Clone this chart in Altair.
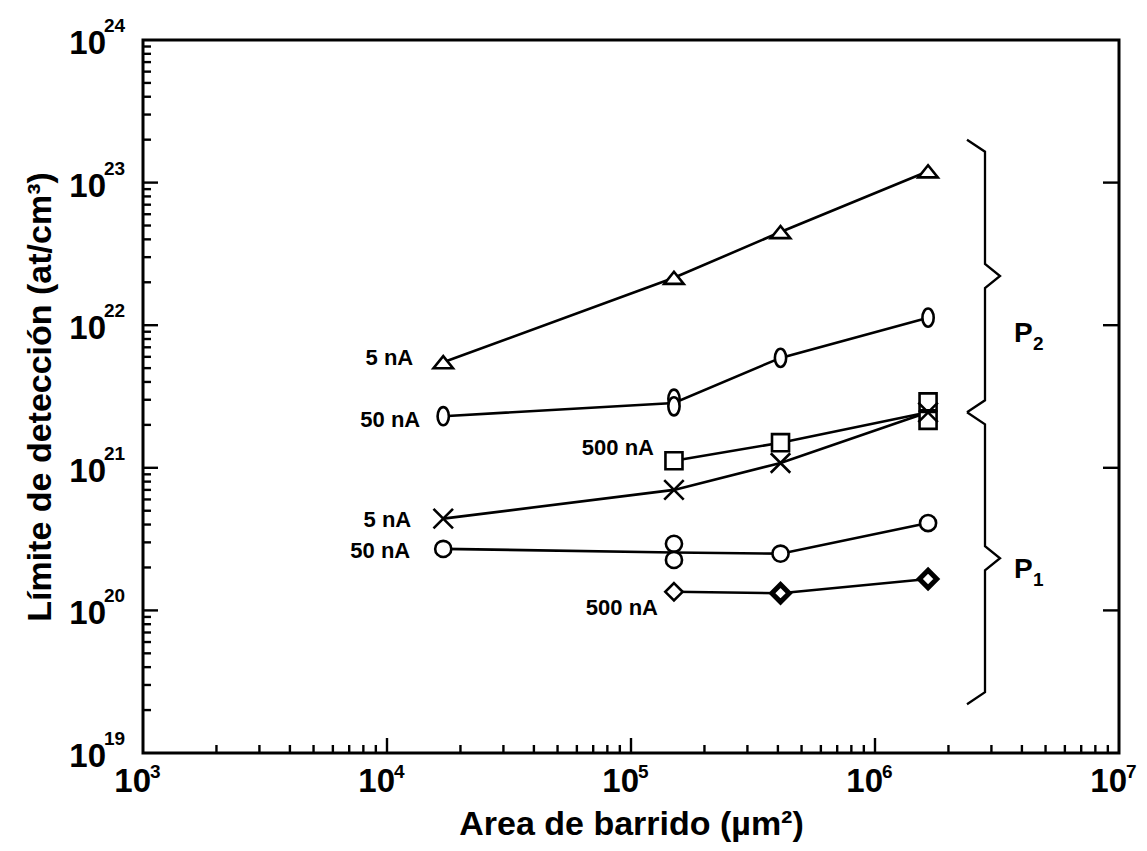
import math
import altair as alt
import pandas as pd

# ---------------- data ----------------
x_area = [1.7e4, 1.5e5, 4.1e5, 1.65e6]

series_ids = ["tri5", "oval50", "sq500", "x5", "circ50", "diam500"]
series_labels = ["5 nA", "50 nA", "500 nA", "5 nA", "50 nA", "500 nA"]

# values through which each connecting line passes (None = no point)
line_tri_5nA = [5.5e21, 2.15e22, 4.5e22, 1.2e23]
line_oval_50nA = [2.3e21, 2.85e21, 5.9e21, 1.13e22]
line_sq_500nA = [None, 1.12e21, 1.5e21, 2.45e21]
line_x_5nA = [4.4e20, 7.0e20, 1.08e21, 2.45e21]
line_circ_50nA = [2.7e20, 2.55e20, 2.5e20, 4.1e20]
line_diam_500nA = [None, 1.35e20, 1.32e20, 1.66e20]

# plotted symbols at each x (some positions carry two symbols)
mk_tri_5nA = [[5.5e21], [2.15e22], [4.5e22], [1.2e23]]
mk_oval_50nA = [[2.3e21], [3.05e21, 2.7e21], [5.9e21], [1.13e22]]
mk_sq_500nA = [[], [1.12e21], [1.5e21], [2.9e21, 2.15e21]]
mk_x_5nA = [[4.4e20], [7.0e20], [1.08e21], [2.45e21]]
mk_circ_50nA = [[2.7e20], [2.93e20, 2.26e20], [2.5e20], [4.1e20]]
mk_diam_500nA = [[], [1.35e20], [1.32e20], [1.66e20]]
diam_bold = [False, False, True, True]

# braces (y extents) and their labels
brace_names = ["P2", "P1"]
brace_top = [2.0e23, 2.45e21]
brace_bottom = [2.45e21, 2.2e19]
brace_label_main = ["P", "P"]
brace_label_sub = ["2", "1"]
brace_label_y = [7.6e21, 1.7e20]

x_tick_values = [1e3, 1e4, 1e5, 1e6, 1e7]
x_tick_exp = ["3", "4", "5", "6", "7"]
y_tick_values = [1e19, 1e20, 1e21, 1e22, 1e23, 1e24]
y_tick_exp = ["19", "20", "21", "22", "23", "24"]

x_title = "Area de barrido (µm²)"
y_title = "Límite de detección (at/cm³)"

# ---------------- styling ----------------
W, H = 976, 713
LEFT = 135
FONT = "Liberation Sans"
WEIGHT = "bold"
LW = 2.6
shape_paths = {
    "tri5": "M-1,0.62L1,0.62L0,-0.62Z",
    "oval50": "M0,-1A0.62,1,0,1,1,0,1A0.62,1,0,1,1,0,-1Z",
    "sq500": "M-1,-1L1,-1L1,1L-1,1Z",
    "x5": "M-1,-1L1,1M-1,1L1,-1",
    "circ50": "circle",
    "diam500": "M0,-1L1,0L0,1L-1,0Z",
}
shape_sizes = {"tri5": 380, "oval50": 330, "sq500": 290, "x5": 380,
               "circ50": 260, "diam500": 300}
label_dx = [-30, -23, -20, -32, -33, -16]
label_dy = [-4, 4, -13, 1, 2, 16]


def px_to_x(px):
    # pixel column (page coords) -> data value on the log x scale
    return 10 ** (3 + (px - (8 + LEFT)) / (W / 4))


line_vals = [line_tri_5nA, line_oval_50nA, line_sq_500nA, line_x_5nA,
             line_circ_50nA, line_diam_500nA]
mk_vals = [mk_tri_5nA, mk_oval_50nA, mk_sq_500nA, mk_x_5nA,
           mk_circ_50nA, mk_diam_500nA]

line_rows = []
for sid, vals in zip(series_ids, line_vals):
    for i, v in enumerate(vals):
        if v is not None:
            line_rows.append({"s": sid, "x": x_area[i], "y": v, "o": i})
line_df = pd.DataFrame(line_rows)

mk_rows = []
for sid, vals in zip(series_ids, mk_vals):
    for i, vs in enumerate(vals):
        for v in vs:
            sw = LW
            if sid == "diam500" and diam_bold[i]:
                sw = 5.0
            mk_rows.append({"s": sid, "x": x_area[i], "y": v,
                            "shape": shape_paths[sid],
                            "size": shape_sizes[sid], "sw": sw})
mk_df = pd.DataFrame(mk_rows)

xs = alt.Scale(type="log", domain=[1e3, 1e7], nice=False)
ys = alt.Scale(type="log", domain=[1e19, 1e24], nice=False)
AX = alt.Axis(title=x_title, labels=False, ticks=False, domain=False, grid=False,
              titleFont=FONT, titleFontSize=34, titleFontWeight=WEIGHT,
              titlePadding=54, titleColor="black")
AY = alt.Axis(title=y_title, labels=False, ticks=False, domain=False, grid=False,
              titleFont=FONT, titleFontSize=34, titleFontWeight=WEIGHT,
              titlePadding=86, titleColor="black")


def X(f="x"):
    return alt.X(f"{f}:Q", scale=xs, axis=AX)


def Y(f="y"):
    return alt.Y(f"{f}:Q", scale=ys, axis=AY)


lines = alt.Chart(line_df).mark_line(color="black", strokeWidth=LW).encode(
    x=X(), y=Y(), detail="s:N", order="o:Q")

markers = alt.Chart(mk_df).mark_point(fill="white", stroke="black", fillOpacity=1,
                                      opacity=1, filled=False).encode(
    x=X(), y=Y(),
    shape=alt.Shape("shape:N", scale=None),
    size=alt.Size("size:Q", scale=None),
    strokeWidth=alt.StrokeWidth("sw:Q", scale=None),
)

label_layers = []
for k, sid in enumerate(series_ids):
    first_i = next(i for i, vs in enumerate(mk_vals[k]) if vs)
    df = pd.DataFrame({"x": [x_area[first_i]], "y": [line_vals[k][first_i]],
                       "t": [series_labels[k]]})
    label_layers.append(alt.Chart(df).mark_text(
        align="right", baseline="middle", dx=label_dx[k], dy=label_dy[k],
        font=FONT, fontSize=22, fontWeight=WEIGHT, color="black").encode(
        x=X(), y=Y(), text="t:N"))

# ticks (pointing inward)
x_minor = [m * 10 ** e for e in range(3, 7) for m in range(2, 10)]
y_minor = [m * 10 ** e for e in range(19, 24) for m in range(2, 10)]
tdf_xM = pd.DataFrame({"x": x_tick_values[1:-1]})
tdf_xm = pd.DataFrame({"x": x_minor})
tdf_yM = pd.DataFrame({"y": y_tick_values[1:-1]})
tdf_ym = pd.DataFrame({"y": y_minor})
tick_style = dict(color="black", strokeWidth=2.4)
ticks = [
    alt.Chart(tdf_xM).mark_rule(**tick_style).encode(x=X(), y=alt.value(H), y2=alt.value(H - 15)),
    alt.Chart(tdf_xm).mark_rule(**tick_style).encode(x=X(), y=alt.value(H), y2=alt.value(H - 8)),
    alt.Chart(tdf_yM).mark_rule(**tick_style).encode(y=Y(), x=alt.value(0), x2=alt.value(15)),
    alt.Chart(tdf_ym).mark_rule(**tick_style).encode(y=Y(), x=alt.value(0), x2=alt.value(8)),
    alt.Chart(tdf_yM).mark_rule(**tick_style).encode(y=Y(), x=alt.value(W), x2=alt.value(W - 16)),
]

# tick labels with real superscripts
xl_df = pd.DataFrame({"x": x_tick_values, "e": x_tick_exp, "t": ["10"] * 5})
yl_df = pd.DataFrame({"y": y_tick_values, "e": y_tick_exp, "t": ["10"] * 6})
tick_labels = [
    alt.Chart(xl_df).mark_text(align="right", baseline="alphabetic", dx=8, font=FONT,
                               fontSize=33, fontWeight=WEIGHT, color="black").encode(
        x=X(), y=alt.value(H + 39), text="t:N"),
    alt.Chart(xl_df).mark_text(align="left", baseline="alphabetic", dx=7, font=FONT,
                               fontSize=19, fontWeight=WEIGHT, color="black").encode(
        x=X(), y=alt.value(H + 25), text="e:N"),
    alt.Chart(yl_df).mark_text(align="right", baseline="alphabetic", dy=14, font=FONT,
                               fontSize=33, fontWeight=WEIGHT, color="black").encode(
        y=Y(), x=alt.value(-37), text="t:N"),
    alt.Chart(yl_df).mark_text(align="left", baseline="alphabetic", dy=-8, dx=-2, font=FONT,
                               fontSize=19, fontWeight=WEIGHT, color="black").encode(
        y=Y(), x=alt.value(-37), text="e:N"),
]

# braces, computed from their extents (log space)
xl_line = px_to_x(985)
xl_tip = px_to_x(1000)
xl_end = px_to_x(967)
hook = 12 / (H / 5)
brace_rows = []
for name, t, b in zip(brace_names, brace_top, brace_bottom):
    lt, lb = math.log10(t), math.log10(b)
    lm = (lt + lb) / 2
    pts = [(xl_end, lt), (xl_line, lt - hook), (xl_line, lm + hook), (xl_tip, lm),
           (xl_line, lm - hook), (xl_line, lb + hook), (xl_end, lb)]
    for j, (px, ly) in enumerate(pts):
        brace_rows.append({"b": name, "x": px, "y": 10 ** ly, "o": j})
braces = alt.Chart(pd.DataFrame(brace_rows)).mark_line(color="black", strokeWidth=2.3).encode(
    x=X(), y=Y(), detail="b:N", order="o:Q")

bl_df = pd.DataFrame({"x": [px_to_x(1014)] * 2, "y": brace_label_y,
                      "m": brace_label_main, "s": brace_label_sub})
brace_labels = [
    alt.Chart(bl_df).mark_text(align="left", baseline="alphabetic", font=FONT, fontSize=28,
                               fontWeight=WEIGHT, color="black").encode(
        x=X(), y=Y(), text="m:N"),
    alt.Chart(bl_df).mark_text(align="left", baseline="alphabetic", dx=19, dy=8, font=FONT,
                               fontSize=19, fontWeight=WEIGHT, color="black").encode(
        x=X(), y=Y(), text="s:N"),
]

chart = alt.layer(*ticks, lines, markers, *label_layers, braces,
                  *brace_labels, *tick_labels).properties(
    width=W, height=H, autosize="none", background="white",
    padding={"left": LEFT, "top": 32, "right": 20, "bottom": 90},
).configure_view(stroke="black", strokeWidth=3)

chart.save("out.html", embed_options={"renderer": "svg", "actions": False})
